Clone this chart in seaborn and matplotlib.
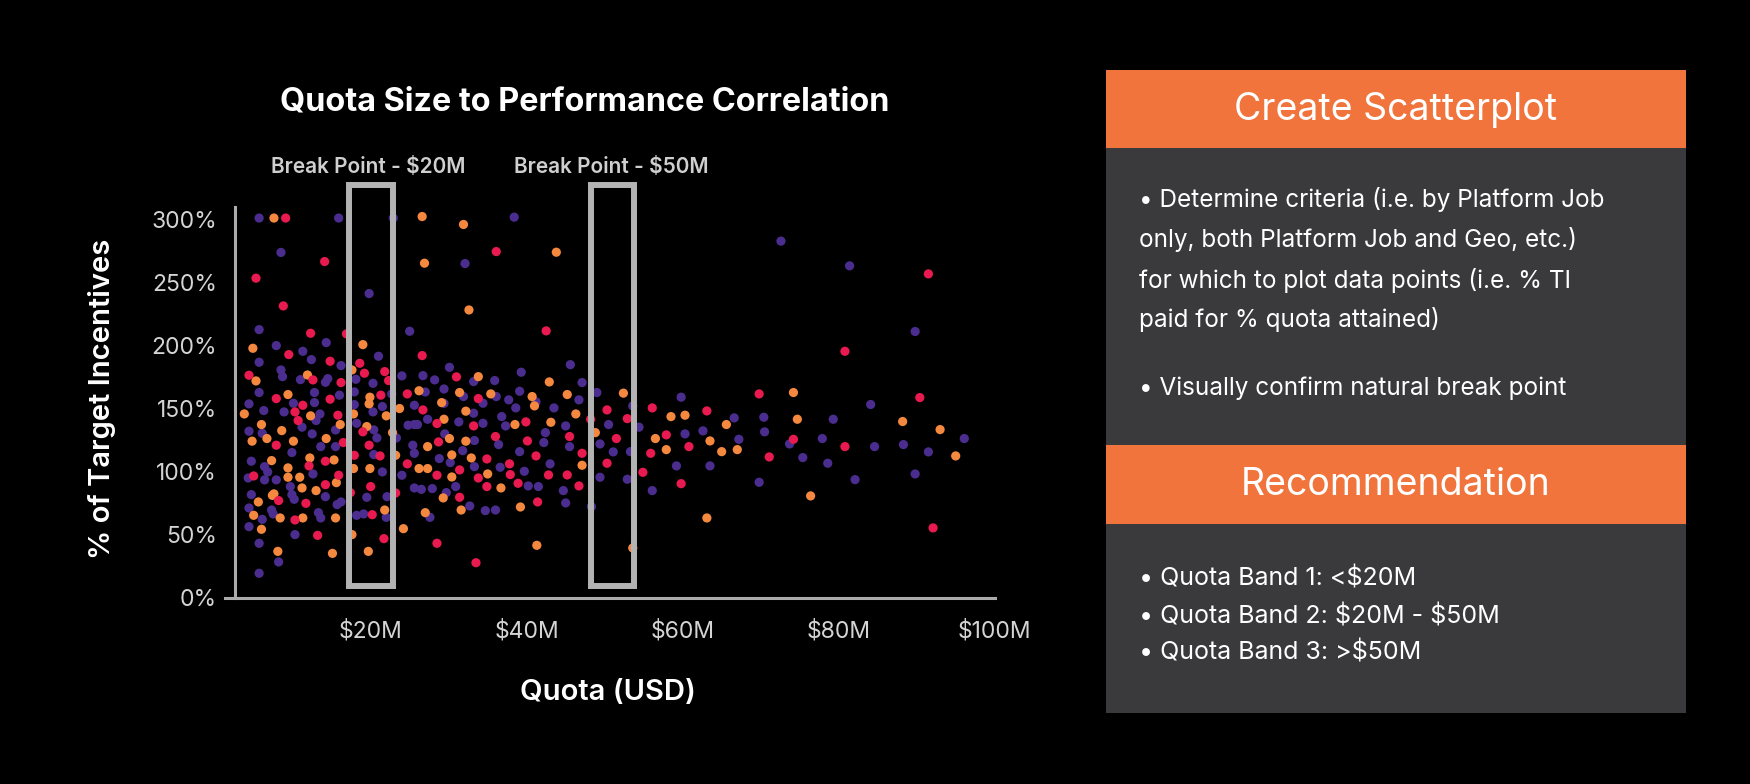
import matplotlib
matplotlib.use("Agg")
import matplotlib.pyplot as plt
import matplotlib.patches as mpatches
import seaborn as sns
import pandas as pd

# ---------------- data (Quota in $M, % of target incentives) ----------------
purple_x = [5.7, 15.9, 22.9, 8.5, 19.8, 5.7, 25.0, 7.9, 14.3, 11.3, 12.4, 5.7, 16.2, 21.0, 8.5, 8.7, 11.0, 14.5, 14.2, 18.1, 20.3, 24.0,
            5.7, 12.8, 12.8, 16.0, 17.9, 22.7, 4.4, 6.3, 8.9, 10.1, 13.5, 13.0, 17.9, 18.2, 20.3, 21.5, 24.8, 20.4, 20.8, 4.4, 6.1, 11.2,
            12.5, 9.9, 13.6, 15.5, 15.5, 20.4, 23.3, 4.7, 6.4, 6.8, 4.3, 6.4, 7.9, 12.6, 21.5, 24.0, 9.7, 9.9, 10.2, 4.7, 14.2, 19.5,
            22.1, 15.7, 16.2, 4.4, 7.3, 7.5, 6.1, 13.3, 13.6, 18.2, 19.1, 22.0, 4.4, 10.3, 5.7, 8.2, 5.7,
            31.9, 36.1, 39.1, 41.2, 46.7, 49.0, 25.6, 29.4, 33.2, 34.4, 37.7, 38.6, 43.5, 25.6, 26.0, 27.3, 31.3, 34.4, 36.8, 37.3,
            45.0, 50.5, 49.4, 51.1, 49.4, 25.4, 25.6, 29.5, 33.3, 31.8, 36.4, 42.2, 42.4, 45.5, 39.1, 28.8, 30.2, 36.6, 43.0, 33.3,
            39.7, 25.6, 26.5, 27.9, 30.9, 40.2, 41.5, 44.7, 29.7, 45.0, 32.7, 34.7, 36.0, 27.6, 48.3,
            38.4, 32.1, 30.1, 45.6, 26.7, 28.2, 33.2, 35.9, 39.3, 47.1, 29.4, 27.0,
            72.6, 81.4, 89.8,
            59.8, 84.1, 53.6, 54.4, 66.6, 70.4, 79.3, 96.1, 60.3, 62.6, 67.2, 70.5, 73.7, 77.9, 84.6, 88.3, 91.5, 53.3, 75.4, 78.6,
            89.8, 52.9, 59.2, 63.5, 56.1, 69.8, 82.1]
purple_y = [301, 301, 301, 273.7, 241.1, 212.5, 211.2, 199.8, 202.2, 195.3, 188.7, 186.6, 184, 191.4, 180.5, 175.2, 172.8, 173.6, 170.7, 173.1, 169.9, 175.8,
            162.6, 162.6, 154.6, 160.5, 163.1, 161.5, 153.6, 148.3, 147.2, 154.1, 145.6, 140.4, 153, 138.2, 147.2, 151.5, 136.7, 133, 126.6, 131.9, 130.3, 135.1,
            129.8, 115, 119.7, 132.9, 119.7, 113.4, 126.6, 108.1, 103.8, 99.6, 94.8, 93.3, 93.3, 98, 99.6, 97, 88, 81.6, 77.9, 81.6, 80, 79.5,
            80, 73.7, 75.8, 71.0, 69.4, 66.3, 62.0, 67.3, 63.1, 65.2, 66.3, 63.6, 56.2, 49.9, 43, 28.2, 19.2,
            159.4, 159.4, 163.6, 155.2, 156.8, 162.6, 152.5, 154, 146.2, 154.1, 156.8, 150.4, 150.4, 137.2, 137.2, 141.4, 139.3, 138.2, 143.5, 136.1,
            136.1, 137.2, 121.8, 115.5, 95.4, 120.8, 114.4, 129.8, 124.5, 116.5, 121.3, 122.9, 130.8, 119.7, 115.7, 110.2, 107, 103.3, 106, 103.8,
            100.1, 86.9, 85.8, 86.4, 88, 88.5, 88, 84.8, 83.2, 75, 72.6, 68.9, 69.4, 63.6, 72.1,
            301.7, 264.9, 182.6, 184.7, 176, 172.6, 171.3, 172.1, 178.7, 170.5, 165.4, 163,
            282.7, 263.1, 211,
            158.9, 153.1, 152, 135.1, 142.5, 143, 141.4, 126.1, 129.8, 132.2, 125.5, 131.4, 121.8, 126.1, 119.7, 121.3, 115.5, 115.7, 111, 106.5,
            98, 93.8, 104.4, 104.4, 84.8, 91.4, 93.5]

orange_x = [7.6, 4.9, 19.0, 11.9, 5.3, 17.6,
            9.4, 19.9, 19.8, 3.8, 12.3, 16.1, 17.8, 19.5, 22.0, 23.7, 22.8, 6.0, 4.8, 6.7, 8.6, 10.1, 14.3, 23.2, 7.3, 12.2, 15.3, 9.4,
            9.4, 10.9, 17.8, 19.9, 15.6, 11.2, 13.0, 7.6, 7.4, 5.6, 5.0, 8.4, 11.3, 15.5, 21.8, 6.0, 17.6, 24.2, 8.1, 15.1, 19.7,
            26.2, 31.4, 35.4, 40.7, 41.0, 45.2, 29.1, 32.2, 46.3, 29.4, 38.5, 43.1, 48.8, 27.3, 30.1, 32.2, 30.4, 32.9, 47.1, 26.2,
            27.3, 35.0, 30.4, 36.7, 29.3, 31.6, 39.2, 27.0, 41.3,
            26.6, 31.9, 43.8, 26.9, 32.6, 33.8, 42.9,
            52.4, 74.2, 58.5, 60.3, 74.7, 88.2, 93.0, 56.5, 65.6, 63.5, 57.9, 65.0, 67.0, 95.0, 76.4, 63.1, 53.6]
orange_y = [301, 197.7, 200.6, 176.5, 171.8, 180.5,
            161, 158.9, 153.6, 145.6, 144.1, 137.2, 145.6, 135.6, 144.1, 149.9, 130.8, 137.2, 124, 126.1, 132.4, 124, 126.1, 112.8, 108.6, 110.7, 109.1, 102.8,
            95.4, 95.4, 102.3, 102.3, 91.1, 86.9, 84.8, 82.2, 81, 75.8, 65.2, 63.1, 63.1, 63.1, 69.4, 54.1, 49.9, 54.6, 36.6, 35, 36.6,
            164, 162.6, 161.5, 159.4, 152, 161, 154.6, 147.8, 145.6, 141.4, 137.2, 139, 130.8, 119.7, 126.1, 124, 113.1, 110.7, 104.9, 102.3,
            102.3, 98, 95.6, 86.9, 79, 69.4, 71.8, 67.3, 41.4,
            302.2, 295.9, 273.9, 265.2, 228.1, 175.2, 171,
            162.1, 162.6, 143.5, 144.6, 141.4, 139.6, 133.2, 126.1, 137.2, 124.2, 117.3, 115.7, 117.3, 112.3, 80.6, 63.1, 39.3]

red_x = [9.1, 14.1, 5.3, 8.8, 12.3, 16.9, 9.5, 14.8, 18.6, 21.8, 4.4, 12.6, 19.2, 22.3, 16.2,
         7.9, 14.8, 21.3, 24.7, 11.3, 10.3, 10.7, 15.8, 19.0, 7.9, 16.5, 17.9, 19.8, 21.2, 14.2, 12.1, 5.0, 15.9, 24.7, 14.2,
         20.0, 8.2, 11.7, 17.4, 23.2, 10.3, 20.2, 13.2, 21.7,
         33.8, 26.7, 28.5, 33.2, 39.9, 48.2, 50.3, 51.5, 50.3, 28.7, 36.0, 40.1, 45.5, 34.9, 37.8, 41.2, 47.1, 31.4, 37.9, 42.8,
         45.2, 28.5, 33.8, 34.9, 38.9, 46.7, 31.4, 41.4, 28.5, 33.5,
         36.1, 42.5, 26.6, 31.0,
         91.5, 80.8,
         69.8, 90.4, 56.1, 52.9, 63.1, 57.9, 74.2, 80.8, 55.9, 60.8, 71.1, 54.9, 59.8, 92.1]
red_y = [301, 266.5, 253.3, 231.3, 209.6, 209.1, 192.7, 187.4, 185.8, 179.2, 176.3, 172.6, 177.9, 172.1, 170.5,
         157.8, 157.3, 160.5, 161.5, 152.5, 147.2, 140.4, 144.6, 131.4, 120.8, 122.9, 112.8, 120.8, 112.3, 108.1, 104.4, 96.4, 97, 106, 89.5,
         88, 76.9, 74.7, 83.2, 82.9, 61.5, 65.7, 49.3, 46.7,
         157.8, 148.8, 138, 136.1, 139.3, 141.4, 148.8, 126.1, 106.5, 123.4, 127.7, 124.2, 127.7, 109.9, 106, 112.3, 114.4, 101.2, 97.5, 97.2,
         97.2, 97, 94.8, 88, 90.6, 88.5, 79.5, 75.8, 43, 27.6,
         274.4, 211.5, 191.9, 175,
         256.7, 195.3,
         161.5, 158.6, 150.4, 141.9, 148, 129, 125.5, 119.7, 114.4, 119.7, 111.5, 99.3, 90.3, 55.2]

x_ticks = [20, 40, 60, 80, 100]
x_tick_labels = ["\\$20M", "\\$40M", "\\$60M", "\\$80M", "\\$100M"]
y_ticks = [0, 50, 100, 150, 200, 250, 300]
y_tick_labels = ["0%", "50%", "100%", "150%", "200%", "250%", "300%"]
break_points = [(17.2, 22.9, "Break Point - \\$20M"), (48.2, 53.8, "Break Point - \\$50M")]

panel1_title = "Create Scatterplot"
panel1_lines = ["\u2022 Determine criteria (i.e. by Platform Job",
                "only, both Platform Job and Geo, etc.)",
                "for which to plot data points (i.e. % TI",
                "paid for % quota attained)"]
panel1_last = "\u2022 Visually confirm natural break point"
panel2_title = "Recommendation"
panel2_lines = ["\u2022 Quota Band 1: <\\$20M",
                "\u2022 Quota Band 2: \\$20M - \\$50M",
                "\u2022 Quota Band 3: >\\$50M"]

# ---------------- style ----------------
sns.set_style("dark")
plt.rcParams["font.family"] = ["Inter", "DejaVu Sans"]

PURPLE = "#4B2D8F"
ORANGE = "#F5883F"
RED = "#E81A50"
GRAY = "#ababab"
ORANGE_HDR = "#F0743C"
BODY = "#3A3A3C"

W, H = 1750, 784
fig = plt.figure(figsize=(W / 100, H / 100), dpi=100, facecolor="black")


def fx(px):
    return px / W


def fy(py):
    return 1 - py / H


ax = fig.add_axes([fx(224.8), fy(597.5), (994.7 - 224.8) / W, (597.5 - 206.7) / H])
ax.set_facecolor("black")

df = pd.concat([
    pd.DataFrame({"quota": purple_x, "pct": purple_y, "grp": "A"}),
    pd.DataFrame({"quota": orange_x, "pct": orange_y, "grp": "B"}),
    pd.DataFrame({"quota": red_x, "pct": red_y, "grp": "C"}),
], ignore_index=True)

sns.scatterplot(data=df, x="quota", y="pct", hue="grp",
                palette={"A": PURPLE, "B": ORANGE, "C": RED},
                s=44, linewidth=0, legend=False, ax=ax, zorder=3)

ax.set_xlim(1.3, 100)
ax.set_ylim(0, 310)
ax.set_xlabel("")
ax.set_ylabel("")
ax.grid(False)

for s in ["top", "right"]:
    ax.spines[s].set_visible(False)
for s in ["left", "bottom"]:
    ax.spines[s].set_color(GRAY)
    ax.spines[s].set_linewidth(2.2)
ax.spines["left"].set_position(("data", 2.6))

ax.set_xticks(x_ticks)
ax.set_xticklabels(x_tick_labels)
ax.set_yticks(y_ticks)
ax.set_yticklabels(y_tick_labels)
ax.tick_params(axis="both", colors=GRAY, width=2.2, length=7, labelsize=16.5,
               labelcolor="#d4d4d4")
ax.tick_params(axis="x", pad=9)
ax.tick_params(axis="y", pad=6)

# break-point boxes
for x0, x1, label in break_points:
    rect = mpatches.Rectangle((x0, 9.1), x1 - x0, 327 - 9.1, fill=False,
                              edgecolor="#b3b3b3", linewidth=4.3, zorder=5,
                              clip_on=False)
    ax.add_patch(rect)

fig.text(fx(368.6), fy(166.7), break_points[0][2], color="#cfcfcf", fontsize=15,
         fontweight="semibold", ha="center", va="center")
fig.text(fx(611.7), fy(166.7), break_points[1][2], color="#cfcfcf", fontsize=15,
         fontweight="semibold", ha="center", va="center")

# titles and axis labels
fig.text(fx(585), fy(101.7), "Quota Size to Performance Correlation", color="white",
         fontsize=23.3, fontweight="bold", ha="center", va="center")
fig.text(fx(101.7), fy(399), "% of Target Incentives", color="white", fontsize=21,
         fontweight="semibold", rotation=90, ha="center", va="center")
fig.text(fx(608), fy(692), "Quota (USD)", color="white", fontsize=21,
         fontweight="semibold", ha="center", va="center")

# right-hand panels
def box(y0, y1, color):
    fig.patches.append(mpatches.Rectangle((fx(1106), fy(y1)), (1686 - 1106) / W,
                                          (y1 - y0) / H, transform=fig.transFigure,
                                          facecolor=color, edgecolor="none", zorder=0))


box(70, 148, ORANGE_HDR)
box(148, 445, BODY)
box(445, 523.5, ORANGE_HDR)
box(523.5, 712.5, BODY)

fig.text(fx(1396), fy(110), panel1_title, color="white", fontsize=27,
         ha="center", va="center")
for i, line in enumerate(panel1_lines):
    fig.text(fx(1139), fy(200 + 40 * i), line, color="white", fontsize=17.5,
             ha="left", va="center")
fig.text(fx(1139), fy(388.5), panel1_last, color="white", fontsize=17.5,
         ha="left", va="center")

fig.text(fx(1396), fy(485), panel2_title, color="white", fontsize=27,
         ha="center", va="center")
for i, line in enumerate(panel2_lines):
    fig.text(fx(1139), fy(579 + 37 * i), line, color="white", fontsize=18,
             ha="left", va="center")

fig.savefig("out.png", dpi=100, facecolor="black")
